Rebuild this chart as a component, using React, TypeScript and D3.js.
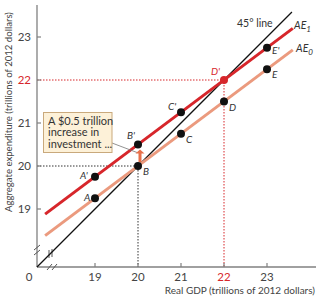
import React from 'react';
import * as d3 from 'd3';

// real GDP (trillions of 2012 dollars) at each labelled point
const gdp = [19, 20, 21, 22, 23];
// aggregate expenditure before and after the investment increase
const ae0 = [19.25, 20, 20.75, 21.5, 22.25];
const ae1 = [19.75, 20.5, 21.25, 22, 22.75];
const names0 = ['A', 'B', 'C', 'D', 'E'];
const names1 = ["A'", "B'", "C'", "D'", "E'"];
const xTicks = [19, 20, 21, 22, 23];
const yTicks = [19, 20, 21, 22, 23];
const noteLines = ['A $0.5 trillion', 'increase in', 'investment ...'];

const W = 319;
const H = 300;
const FONT = 'Lato, "Open Sans", sans-serif';
const AXIS = '#808080';
const RED = '#d7262b';
const SALMON = '#eb9a7e';
const ARROW = '#e8704a';

export default function App() {
  const x = d3.scaleLinear().domain([19, 23]).range([95, 267]);
  const y = d3.scaleLinear().domain([19, 23]).range([209, 37]);

  // the origin of the broken axes
  const ox = 37;
  const oy = 267;
  const v0 = x.invert(ox);

  const slope = (ae0[4] - ae0[0]) / (gdp[4] - gdp[0]);
  const lineX0 = 17.84;
  const lineX1 = 23.6;
  const aeLine = (vals: number[]) =>
    d3.line()([
      [x(lineX0), y(vals[0] + slope * (lineX0 - gdp[0]))],
      [x(lineX1), y(vals[4] + slope * (lineX1 - gdp[4]))],
    ]) as string;

  const line45 = d3.line()([
    [x(v0), y(v0)],
    [x(23.58), y(23.58)],
  ]) as string;

  const labelPos0: [number, number][] = [[-11, 3], [5, 9], [5, 9], [5, 9], [5, 9]];
  const labelPos1: [number, number][] = [[-15, 2], [-11, -6], [-13, -2], [-13, -5], [5, 6]];

  // upward shift arrow between B and B'
  const ax = x(20) + 2;
  const aBot = y(20) - 4;
  const aTop = y(20.5) + 5;
  const arrow = `M${ax - 1.5},${aBot}V${aTop + 4}H${ax - 4.5}L${ax},${aTop}L${ax + 4.5},${aTop + 4}H${ax + 1.5}V${aBot}Z`;

  return (
    <svg width={W} height={H} style={{ position: 'absolute', left: 0, top: 0, background: '#fff' }}
      fontFamily={FONT}>
      {/* guide lines */}
      <path d={`M${ox},${y(22)}H${x(22)}V${oy}`} fill="none" stroke={RED} strokeWidth={1} strokeDasharray="1.5,1.5" />
      <path d={`M${ox},${y(20)}H${x(20)}V${oy}`} fill="none" stroke="#333" strokeWidth={1} strokeDasharray="1.5,1.5" />

      {/* axes */}
      <line x1={ox} y1={oy} x2={ox} y2={5} stroke={AXIS} strokeWidth={1.3} />
      <line x1={ox} y1={oy} x2={316} y2={oy} stroke={AXIS} strokeWidth={1.3} />
      {yTicks.map(t => (
        <g key={'y' + t}>
          <line x1={ox} x2={ox + 4} y1={y(t)} y2={y(t)} stroke={AXIS} strokeWidth={1.2} />
          <text x={31} y={y(t) + 4} textAnchor="end" fontSize={11.5} fill={t === 22 ? RED : '#444'}>{t}</text>
        </g>
      ))}
      {xTicks.map(t => (
        <g key={'x' + t}>
          <line x1={x(t)} x2={x(t)} y1={oy} y2={oy - 4} stroke={AXIS} strokeWidth={1.2} />
          <text x={x(t)} y={281} textAnchor="middle" fontSize={11.5} fill={t === 22 ? RED : '#444'}>{t}</text>
        </g>
      ))}
      <text x={29} y={281} textAnchor="middle" fontSize={11.5} fill="#444">0</text>

      {/* axis break marks */}
      <g stroke="#555" strokeWidth={1} fill="none">
        <path d={`M${ox - 3},${250}l6,-5M${ox - 3},${255}l6,-5`} />
        <path d={`M${47},${270}l5,-6M${52},${270}l5,-6`} />
        <path d={`M${49},${250}v8M${52},${249}v8`} />
      </g>

      {/* axis titles */}
      <text x={315} y={294} textAnchor="end" fontSize={10} fill="#444">Real GDP (trillions of 2012 dollars)</text>
      <text transform={`translate(12,212) rotate(-90)`} fontSize={9.6} fill="#444">
        Aggregate expenditure (trillions of 2012 dollars)
      </text>

      {/* expenditure lines */}
      <path d={line45} stroke="#111" strokeWidth={1.3} fill="none" />
      <path d={aeLine(ae0)} stroke={SALMON} strokeWidth={3} fill="none" />
      <path d={aeLine(ae1)} stroke={RED} strokeWidth={3} fill="none" />

      <text x={237} y={27} fontSize={10.5} fill="#333">45° line</text>
      <text x={294} y={29} fontSize={10.5} fontStyle="italic" fill="#333">AE<tspan fontSize={8} dy={3}>1</tspan></text>
      <text x={296} y={52} fontSize={10.5} fontStyle="italic" fill="#333">AE<tspan fontSize={8} dy={3}>0</tspan></text>

      {/* shift arrow and note */}
      <line x1={112} y1={143} x2={ax - 3} y2={aTop + 3} stroke="#777" strokeWidth={0.8} />
      <path d={arrow} fill={ARROW} />
      <rect x={43.5} y={112.5} width={68.5} height={40} fill="#fdf1d8" stroke="#c9a97c" strokeWidth={1} />
      {noteLines.map((t, i) => (
        <text key={t} x={48} y={124.5 + i * 11.5} fontSize={11} fill="#333">{t}</text>
      ))}

      {/* points */}
      {gdp.map((g, i) => (
        <g key={'p0' + i}>
          <circle cx={x(g)} cy={y(ae0[i])} r={4} fill="#111" />
          <text x={x(g) + labelPos0[i][0]} y={y(ae0[i]) + labelPos0[i][1]} fontSize={10} fontStyle="italic"
            fill="#333">{names0[i]}</text>
        </g>
      ))}
      {gdp.map((g, i) => (
        <g key={'p1' + i}>
          <circle cx={x(g)} cy={y(ae1[i])} r={4} fill={names1[i] === "D'" ? RED : '#111'} />
          <text x={x(g) + labelPos1[i][0]} y={y(ae1[i]) + labelPos1[i][1]} fontSize={10} fontStyle="italic"
            fill={names1[i] === "D'" ? RED : '#333'}>{names1[i]}</text>
        </g>
      ))}
    </svg>
  );
}
